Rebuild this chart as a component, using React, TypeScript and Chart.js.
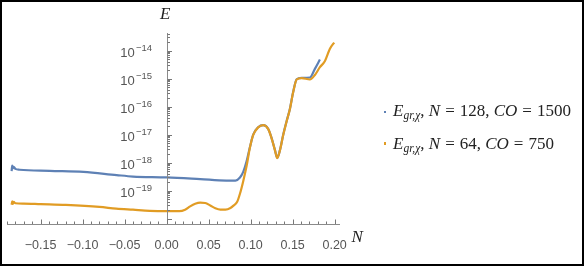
import React, { useEffect, useRef } from "react";
import { Chart, registerables } from "chart.js";

Chart.register(...registerables);

// ---- data (N, E) ----
const nBlue = [
  -0.1845, -0.1838, -0.183, -0.182, -0.18, -0.175, -0.139, -0.099, -0.0595, -0.04, 0.0, 0.04,
  0.071, 0.082, 0.0873, 0.0912, 0.0952, 0.0992, 0.1031, 0.109, 0.115, 0.121, 0.125, 0.129,
  0.1317, 0.1349, 0.1388, 0.1429, 0.1468, 0.1507, 0.1548, 0.1607, 0.1706, 0.1765, 0.1825,
];
const eBlue = [
  5.0e-19, 7.9e-19, 6.3e-19, 7.1e-19, 6.0e-19, 5.6e-19, 5.1e-19, 4.7e-19, 3.6e-19, 3.2e-19, 3.0e-19,
  2.6e-19, 2.3e-19, 2.3e-19, 2.95e-19, 4.7e-19, 1.12e-18, 3.6e-18, 1.0e-17, 1.85e-17, 2.2e-17,
  1.6e-17, 7.5e-18, 2.8e-18, 1.5e-18, 2.8e-18, 1.0e-17, 3.1e-17, 8.5e-17, 3.4e-16, 9.5e-16,
  1.07e-15, 1.1e-15, 2.24e-15, 4.8e-15,
];
const nOrange = [
  -0.1845, -0.1838, -0.183, -0.182, -0.18, -0.17, -0.15, -0.12, -0.08, -0.06, -0.04, -0.02, 0.0,
  0.015, 0.022, 0.028, 0.034, 0.04, 0.046, 0.052, 0.058, 0.064, 0.07, 0.076, 0.08, 0.084, 0.0873,
  0.0912, 0.0952, 0.0992, 0.1031, 0.109, 0.115, 0.121, 0.125, 0.129, 0.1317, 0.1349, 0.1388,
  0.1429, 0.1468, 0.1507, 0.1548, 0.1607, 0.1706, 0.1765, 0.1825, 0.1885, 0.1944, 0.1995,
];
const eOrange = [
  3.16e-20, 4.17e-20, 3.39e-20, 3.98e-20, 3.55e-20, 3.47e-20, 3.31e-20, 3.09e-20, 2.63e-20,
  2.29e-20, 2.09e-20, 1.91e-20, 1.86e-20, 1.86e-20, 2.09e-20, 2.75e-20, 3.39e-20, 3.72e-20,
  3.63e-20, 2.95e-20, 2.34e-20, 2.09e-20, 2.09e-20, 2.4e-20, 3.0e-20, 4.0e-20, 7.76e-20, 2.19e-19,
  7.59e-19, 3.47e-18, 9.77e-18, 1.82e-17, 2.19e-17, 1.58e-17, 7.41e-18, 2.75e-18, 1.45e-18,
  2.75e-18, 9.77e-18, 3.02e-17, 8.32e-17, 3.31e-16, 9.33e-16, 1.05e-15, 9.33e-16, 1.35e-15,
  2.57e-15, 4.27e-15, 1.17e-14, 1.95e-14,
];

const xTickValues = [-0.15, -0.1, -0.05, 0.0, 0.05, 0.1, 0.15, 0.2];
const xMinorStep = 0.01;
const yDecades = [-20, -19, -18, -17, -16, -15, -14];
const yLabelDecades = [-19, -18, -17, -16, -15, -14];

const X_MIN = -0.19;
const X_MAX = 0.2064;
const Y_MIN = 6.46e-21;
const Y_MAX = 4.27e-14;

const BLUE = "#5E81B5";
const ORANGE = "#E19C24";
const TICK_COLOR = "#555555";
const AXIS_COLOR = "#8a8a8a";

const axesPlugin = {
  id: "mmaAxes",
  afterDraw(chart: any) {
    const { ctx, chartArea } = chart;
    const xs = chart.scales.x;
    const ys = chart.scales.y;
    const x0 = xs.getPixelForValue(0);
    const yb = chartArea.bottom;
    ctx.save();
    ctx.strokeStyle = AXIS_COLOR;
    ctx.lineWidth = 1;
    ctx.beginPath();
    ctx.moveTo(chartArea.left, yb + 0.5);
    ctx.lineTo(chartArea.right, yb + 0.5);
    ctx.moveTo(Math.round(x0) + 0.5, chartArea.top);
    ctx.lineTo(Math.round(x0) + 0.5, yb);
    ctx.stroke();
    ctx.strokeStyle = "#777";
    ctx.beginPath();
    for (let i = -19; i <= 20; i++) {
      const v = i * xMinorStep;
      if (v < X_MIN - 1e-9 || v > X_MAX) continue;
      const px = Math.round(xs.getPixelForValue(v)) + 0.5;
      const major = i % 5 === 0;
      ctx.moveTo(px, yb);
      ctx.lineTo(px, yb - (major ? 4.5 : 2.5));
    }
    for (const k of yDecades) {
      for (let m = 1; m <= 9; m++) {
        const v = m * Math.pow(10, k);
        if (v < Y_MIN || v > Y_MAX) continue;
        const py = Math.round(ys.getPixelForValue(v)) + 0.5;
        ctx.moveTo(Math.round(x0) + 0.5, py);
        ctx.lineTo(Math.round(x0) + 0.5 + (m === 1 ? 4.5 : 2.5), py);
      }
    }
    ctx.stroke();
    ctx.fillStyle = TICK_COLOR;
    ctx.textBaseline = "alphabetic";
    for (const k of yLabelDecades) {
      const py = ys.getPixelForValue(Math.pow(10, k));
      const sup = "\u2212" + String(-k);
      ctx.font = '9.5px "Liberation Sans", Arial, sans-serif';
      const supW = ctx.measureText(sup).width;
      const supX = x0 - 14.5 - supW;
      ctx.textAlign = "left";
      ctx.fillText(sup, supX, py + 0.2);
      ctx.font = '13px "Liberation Sans", Arial, sans-serif';
      ctx.textAlign = "right";
      ctx.fillText("10", supX - 1.2, py + 6);
    }
    ctx.restore();
  },
};

export default function App() {
  const ref = useRef<HTMLCanvasElement | null>(null);
  useEffect(() => {
    if (!ref.current) return;
    const chart = new Chart(ref.current, {
      type: "line",
      data: {
        datasets: [
          {
            label: "E_{gr,χ}, N = 128, CO = 1500",
            data: nBlue.map((x, i) => ({ x, y: eBlue[i] })),
            borderColor: BLUE,
            backgroundColor: BLUE,
            borderWidth: 2.2,
            pointRadius: 0,
            cubicInterpolationMode: "monotone",
            order: 2,
          },
          {
            label: "E_{gr,χ}, N = 64, CO = 750",
            data: nOrange.map((x, i) => ({ x, y: eOrange[i] })),
            borderColor: ORANGE,
            backgroundColor: ORANGE,
            borderWidth: 2.2,
            pointRadius: 0,
            cubicInterpolationMode: "monotone",
            order: 1,
          },
        ],
      },
      options: {
        responsive: false,
        animation: false,
        layout: { padding: { left: 7, right: 245, top: 33, bottom: 9 } },
        plugins: { legend: { display: false }, tooltip: { enabled: false } },
        scales: {
          x: {
            type: "linear",
            min: X_MIN,
            max: X_MAX,
            position: "bottom",
            grid: { display: false },
            border: { display: false },
            afterBuildTicks: (scale: any) => {
              scale.ticks = xTickValues.map((v) => ({ value: v }));
            },
            ticks: {
              autoSkip: false,
              maxRotation: 0,
              padding: 6,
              color: TICK_COLOR,
              font: { family: '"Liberation Sans", Arial, sans-serif', size: 12.5 },
              callback: (v: any) => {
                const n = Number(v);
                const s = Math.abs(n).toFixed(2);
                return n < -1e-9 ? "\u2212" + s : s;
              },
            },
          },
          y: {
            type: "logarithmic",
            min: Y_MIN,
            max: Y_MAX,
            display: false,
          },
        },
      },
      plugins: [axesPlugin],
    } as any);
    return () => chart.destroy();
  }, []);

  const serif = '"Liberation Serif", "Times New Roman", serif';
  const lineStyle = (top: number): React.CSSProperties => ({
    position: "absolute",
    left: 393,
    top,
    font: `17px ${serif}`,
    lineHeight: "20px",
    color: "#222",
    whiteSpace: "nowrap",
  });
  const sub: React.CSSProperties = { fontSize: "11.5px", verticalAlign: "-3px", lineHeight: 0, fontStyle: "italic" };
  const eq: React.CSSProperties = { margin: "0 5px" };

  return (
    <div style={{ position: "absolute", left: 0, top: 0, width: 585, height: 268, background: "#fff" }}>
      <canvas ref={ref} width={585} height={268} style={{ position: "absolute", left: 0, top: 0, width: 585, height: 268 }} />
      <div
        style={{
          position: "absolute",
          left: 0,
          top: 0,
          width: 584,
          height: 266,
          boxSizing: "border-box",
          border: "2px solid #000",
          pointerEvents: "none",
        }}
      />
      <div style={{ position: "absolute", left: 160, top: 4, font: `italic 17px ${serif}`, lineHeight: "20px", color: "#222" }}>E</div>
      <div style={{ position: "absolute", left: 351.5, top: 227.3, font: `italic 17px ${serif}`, lineHeight: "20px", color: "#222" }}>N</div>
      <div style={{ position: "absolute", left: 383.8, top: 110.5, width: 2.5, height: 2.5, background: BLUE }} />
      <div style={{ position: "absolute", left: 383.8, top: 142.3, width: 2.5, height: 2.5, background: ORANGE }} />
      <div style={lineStyle(100.7)}>
        <i>E</i>
        <span style={sub}>gr,χ</span>, <i>N</i>
        <span style={eq}>=</span>128, <i>CO</i>
        <span style={eq}>=</span>1500
      </div>
      <div style={lineStyle(134)}>
        <i>E</i>
        <span style={sub}>gr,χ</span>, <i>N</i>
        <span style={eq}>=</span>64, <i>CO</i>
        <span style={eq}>=</span>750
      </div>
    </div>
  );
}
